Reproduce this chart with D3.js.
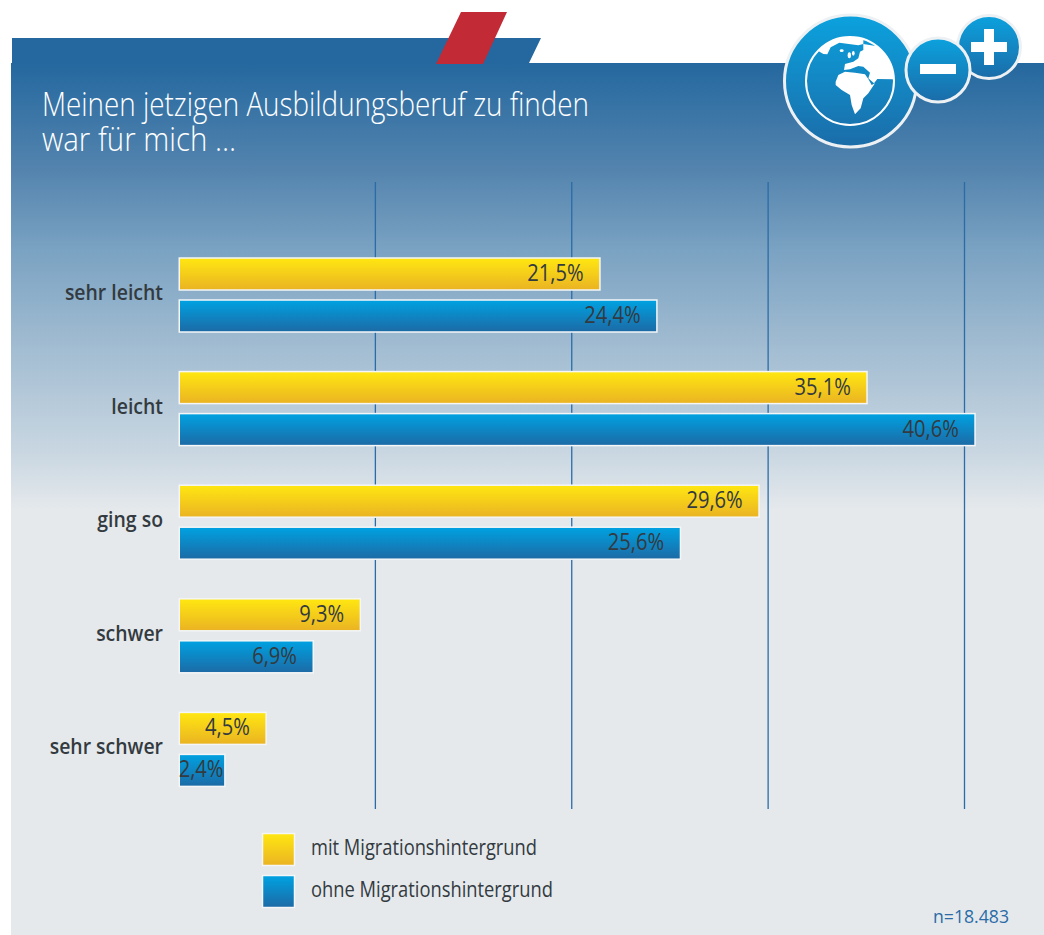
<!DOCTYPE html>
<html>
<head>
<meta charset="utf-8">
<script src="https://cdn.jsdelivr.net/npm/d3@7"></script>
<style>
	html, body { margin: 0; padding: 0; background: #fff; }
	svg { display: block; }
	text { font-family: "Open Sans", sans-serif; }
</style>
</head>
<body>
<script>
'use strict';

const categories = ["sehr leicht", "leicht", "ging so", "schwer", "sehr schwer"];
const seriesNames = ["mit Migrationshintergrund", "ohne Migrationshintergrund"];
const mitValues = [21.5, 35.1, 29.6, 9.3, 4.5];
const ohneValues = [24.4, 40.6, 25.6, 6.9, 2.4];
const gridTicks = [10, 20, 30, 40];
const titleLines = ["Meinen jetzigen Ausbildungsberuf zu finden", "war für mich …"];

const width = 1044, height = 935;

const svg = d3.select("body").append("svg")
	.attr("width", width)
	.attr("height", height);

const defs = svg.append("defs");

// Vertical gradients for panel, bars and icons
const addGradient = (id, stops) => {
	const g = defs.append("linearGradient")
		.attr("id", id)
		.attr("x1", 0).attr("y1", 0).attr("x2", 0).attr("y2", 1);
	stops.forEach(s => g.append("stop").attr("offset", s[0]).attr("stop-color", s[1]));
}
addGradient("panelGrad", [[0, "#24689f"], [0.123, "#5484ae"], [0.214, "#7aa2c2"], [0.329, "#a3bdd2"], [0.444, "#c8d6e1"], [0.513, "#e5e9ec"], [1, "#e5e9ec"]]);
addGradient("yellowGrad", [[0, "#ffe711"], [1, "#eab323"]]);
addGradient("blueGrad", [[0, "#00a2e2"], [1, "#1c6aa5"]]);
addGradient("iconGrad", [[0, "#0ba2de"], [1, "#1b6ca8"]]);

// Squeeze text horizontally, the font here is wider than the original one
const squeeze = (sel, factor) => {
	sel.each(function() {
		const w = this.getComputedTextLength();
		d3.select(this)
			.attr("textLength", w * factor)
			.attr("lengthAdjust", "spacingAndGlyphs");
	});
}

// Background shapes
svg.append("path")
	.attr("d", "M12,38 H541 L529,63 H1044 V935 H11 V63 H12 Z")
	.attr("fill", "#24689f");
svg.append("rect")
	.attr("x", 11).attr("y", 63)
	.attr("width", 1033).attr("height", 872)
	.attr("fill", "url(#panelGrad)");
svg.append("path")
	.attr("d", "M461,12 H507 L483,64 H436 Z")
	.attr("fill", "#c22a35");

// Title
const titleLengths = [547, 194];
const title = svg.append("text")
	.attr("fill", "#fff")
	.attr("font-size", 33)
	.attr("font-weight", 300);
title.selectAll("tspan")
	.data(titleLines)
	.enter()
	.append("tspan")
	.attr("x", 42)
	.attr("y", (d, i) => 116 + i * 35)
	.attr("textLength", (d, i) => titleLengths[i])
	.attr("lengthAdjust", "spacingAndGlyphs")
	.text(d => d);

// Icon: globe, minus, plus
const icon = svg.append("g");
const addIconCircle = (cx, cy, r) => {
	icon.append("circle")
		.attr("cx", cx).attr("cy", cy).attr("r", r)
		.attr("fill", "url(#iconGrad)")
		.attr("stroke", "#eef1f3")
		.attr("stroke-width", 3);
}
addIconCircle(850.5, 81, 66);
addIconCircle(989, 47, 31.5);
addIconCircle(938, 70, 32);
defs.append("clipPath").attr("id", "globeClip")
	.append("circle")
	.attr("cx", 150).attr("cy", 153).attr("r", 132);
icon.append("circle")
	.attr("cx", 850).attr("cy", 81).attr("r", 44)
	.attr("fill", "none")
	.attr("stroke", "#fff")
	.attr("stroke-width", 2);
// landmasses, traced roughly
const land = icon.append("g")
	.attr("transform", "translate(800, 30) scale(0.3333)")
	.attr("clip-path", "url(#globeClip)")
	.attr("fill", "#fff");
land.append("path")
	.attr("d", "M50,60 L70,72 L82,73 L92,52 L118,38 L175,46 L190,42 L190,10 L50,10 Z");
land.append("path")
	.attr("d", "M190,42 L300,60 L300,148 L232,147 L222,160 L205,145 L210,128 L190,110 L175,108 L150,118 L132,120 L135,102 L160,95 L175,85 L180,65 L190,60 Z");
land.append("path")
	.attr("d", "M107,155 L115,135 L135,125 L165,128 L195,133 L205,147 L215,165 L225,160 L205,190 L190,205 L182,235 L165,253 L155,225 L150,195 L125,180 L107,165 Z");
land.append("ellipse").attr("cx", 125).attr("cy", 62).attr("rx", 6).attr("ry", 4);
land.append("ellipse").attr("cx", 148).attr("cy", 76).attr("rx", 5).attr("ry", 9);
land.append("ellipse").attr("cx", 160).attr("cy", 70).attr("rx", 4).attr("ry", 7);
icon.append("rect").attr("x", 920).attr("y", 64).attr("width", 36).attr("height", 10).attr("fill", "#fff");
icon.append("rect").attr("x", 971).attr("y", 42).attr("width", 36).attr("height", 10).attr("fill", "#fff");
icon.append("rect").attr("x", 984).attr("y", 29).attr("width", 10).attr("height", 36).attr("fill", "#fff");

// Scales
const xScale = d3.scaleLinear()
	.domain([0, 40])
	.range([178.5, 964]);
const rowStep = 113.6;
const yScale = d3.scaleBand()
	.domain(categories)
	.range([253, 253 + rowStep * categories.length]);

// Vertical grid lines
const grid = svg.append("g")
	.attr("transform", "translate(0, 809)")
	.call(d3.axisTop(xScale).tickValues(gridTicks).tickSize(627).tickFormat(""));
grid.select(".domain").remove();
grid.selectAll("line").attr("stroke", "#2a6ca8").attr("stroke-width", 1.3);

// Bars
const series = [
	{ name: seriesNames[0], values: mitValues, fill: "url(#yellowGrad)", y: 5 },
	{ name: seriesNames[1], values: ohneValues, fill: "url(#blueGrad)", y: 47 }
];
const formatValue = v => String(v).replace(".", ",") + "%";
const barHeight = 32;

series.forEach(s => {
	const g = svg.append("g");
	g.selectAll("rect")
		.data(s.values)
		.enter()
		.append("rect")
		.attr("x", xScale(0) + 0.75)
		.attr("y", (d, i) => yScale(categories[i]) + s.y)
		.attr("width", d => xScale(d) - xScale(0) - 1.5)
		.attr("height", barHeight)
		.attr("fill", s.fill)
		.attr("stroke", "#f4f6f7")
		.attr("stroke-width", 1.5);
	g.selectAll("text")
		.data(s.values)
		.enter()
		.append("text")
		.attr("x", d => Math.max(xScale(d) - 17, xScale(0) + 45))
		.attr("y", (d, i) => yScale(categories[i]) + s.y + 23)
		.attr("text-anchor", "end")
		.attr("fill", "#333a40")
		.attr("font-size", 23)
		.text(d => formatValue(d))
		.call(squeeze, 0.875);
});

// Category labels
svg.append("g").selectAll("text")
	.data(categories)
	.enter()
	.append("text")
	.attr("x", 163)
	.attr("y", d => yScale(d) + 47)
	.attr("text-anchor", "end")
	.attr("fill", "#333a40")
	.attr("font-size", 21)
	.attr("font-weight", 600)
	.text(d => d)
	.call(squeeze, 0.925);

// Legend
const legend = svg.append("g");
const legendFills = ["url(#yellowGrad)", "url(#blueGrad)"];
const legendY = [833.5, 875.5];
const legendLengths = [226, 242];
seriesNames.forEach((name, i) => {
	legend.append("rect")
		.attr("x", 262.5).attr("y", legendY[i])
		.attr("width", 32).attr("height", 32)
		.attr("fill", legendFills[i])
		.attr("stroke", "#f4f6f7")
		.attr("stroke-width", 1.5);
	legend.append("text")
		.attr("x", 311)
		.attr("y", legendY[i] + 21)
		.attr("fill", "#333a40")
		.attr("font-size", 22)
		.attr("textLength", legendLengths[i])
		.attr("lengthAdjust", "spacingAndGlyphs")
		.text(name);
});

svg.append("text")
	.attr("x", 1009)
	.attr("y", 923)
	.attr("text-anchor", "end")
	.attr("fill", "#2a6ca8")
	.attr("font-size", 18)
	.attr("textLength", 76)
	.attr("lengthAdjust", "spacingAndGlyphs")
	.text("n=18.483");
</script>
</body>
</html>
